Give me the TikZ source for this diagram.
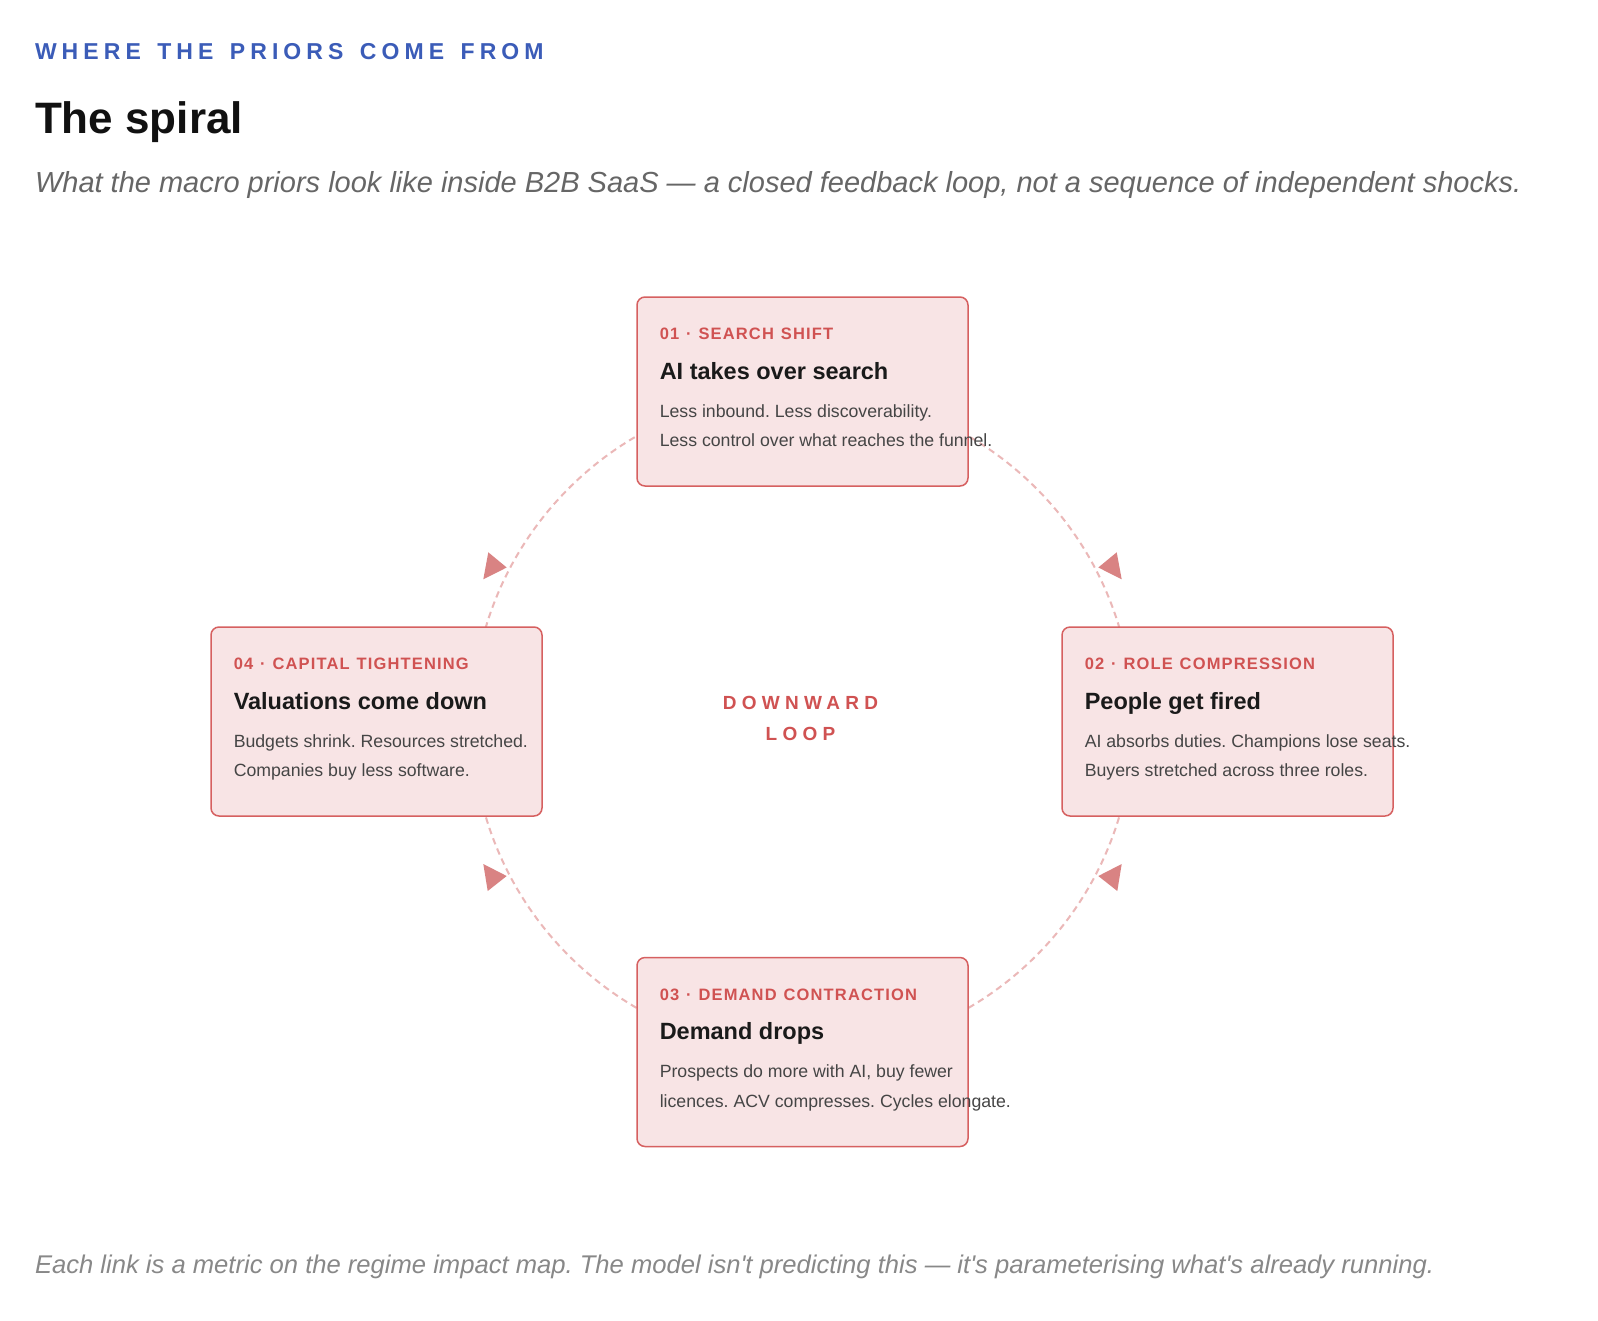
\documentclass[tikz,border=0pt]{standalone}
\usepackage{fontspec}
\setmainfont{Liberation Sans}
\newfontfamily\plainfont{Liberation Sans}
\newfontfamily\hdrfont[LetterSpace=22]{Liberation Sans}
\newfontfamily\lblfont[LetterSpace=7]{Liberation Sans}
\newfontfamily\loopfont[LetterSpace=28]{Liberation Sans}
\usetikzlibrary{calc}
\definecolor{hdrblue}{HTML}{3B5CB8}
\definecolor{titleblack}{HTML}{111111}
\definecolor{subgrey}{HTML}{666666}
\definecolor{footgrey}{HTML}{888888}
\definecolor{boxfill}{HTML}{F8E4E5}
\definecolor{boxline}{HTML}{D66060}
\definecolor{lblred}{HTML}{D05252}
\definecolor{headdark}{HTML}{1A1A1A}
\definecolor{bodygrey}{HTML}{454545}
\definecolor{dashpink}{HTML}{EBB8B8}
\definecolor{arrowpink}{HTML}{D98383}
\frenchspacing
\newcommand{\hsp}{\hspace{5.06pt}}
\newcommand{\lsp}{\hspace{1.15pt}}
\begin{document}
\begin{tikzpicture}[x=1pt,y=-1pt,
  txt/.style={anchor=base west, inner sep=0pt, outer sep=0pt},
  ctxt/.style={anchor=base, inner sep=0pt, outer sep=0pt},
  cardbox/.style={draw=boxline, fill=boxfill, line width=1.5pt, rounded corners=8pt,
    minimum width=331pt, minimum height=189pt, inner sep=0pt},
  lbl/.style={txt, text=lblred, font=\lblfont\bfseries\fontsize{16.5}{20}\selectfont},
  hd/.style={txt, text=headdark, font=\bfseries\fontsize{23.5}{28}\selectfont},
  bd/.style={txt, text=bodygrey, font=\fontsize{17.7}{22}\selectfont},
  loopline/.style={draw=dashpink, line width=2pt, dash pattern=on 6.5pt off 4.5pt},
  tri/.style={fill=arrowpink}
]
\useasboundingbox (0,0) rectangle (1598,1320);
\fill[white] (0,0) rectangle (1598,1320);

% header
\node[txt, text=hdrblue, font=\hdrfont\bfseries\fontsize{23}{28}\selectfont] (kicker) at (35,59.3) {WHERE \hsp THE \hsp PRIORS \hsp COME \hsp FROM};
\node[txt, text=titleblack, font=\bfseries\fontsize{44}{52}\selectfont] (title) at (35,133.3) {The spiral};
\node[txt, text=subgrey, font=\itshape\fontsize{29}{34}\selectfont] (subtitle) at (35,192.7) {What the macro priors look like inside B2B SaaS — a closed feedback loop, not a sequence of independent shocks.};

% loop centre
\coordinate (c) at (802.5,721.5);

% card positions
\path (802.5,391.5) coordinate (p1);
\path (1227.5,721.5) coordinate (p2);
\path (802.5,1052) coordinate (p3);
\path (376.5,721.5) coordinate (p4);

% dashed loop connectors (behind the cards)
\draw[loopline] (p1) arc[start angle=270, end angle=90, radius=330.5];
\draw[loopline] (p1) arc[start angle=270, end angle=450, radius=330.5];

% arrow heads
\fill[tri] ($(c)+(-295.8,-154)$) -- ($(c)+(-314.2,-169.2)$) -- ($(c)+(-319.2,-142.2)$) -- cycle;
\fill[tri] ($(c)+(295.8,-154)$) -- ($(c)+(314.2,-169.2)$) -- ($(c)+(319.2,-142.2)$) -- cycle;
\fill[tri] ($(c)+(-295.8,154.5)$) -- ($(c)+(-319.2,142.5)$) -- ($(c)+(-314.8,169.5)$) -- cycle;
\fill[tri] ($(c)+(295.8,154.5)$) -- ($(c)+(319.2,142.5)$) -- ($(c)+(314.8,169.5)$) -- cycle;

% cards
\node[cardbox] (b1) at (p1) {};
\node[cardbox] (b2) at (p2) {};
\node[cardbox] (b3) at (p3) {};
\node[cardbox] (b4) at (p4) {};

% card 1
\node[lbl] (b1l) at ($(b1.north west)+(23.5,43.3)$) {01 \lsp· \lsp SEARCH \lsp SHIFT};
\node[hd]  (b1h) at ($(b1.north west)+(23.5,83.2)$) {AI takes over search};
\node[bd]  (b1a) at ($(b1.north west)+(23.5,121.2)$) {Less inbound. Less discoverability.};
\node[bd]  (b1b) at ($(b1.north west)+(23.5,150.6)$) {Less control over what reaches the funnel.};

% card 2
\node[lbl] (b2l) at ($(b2.north west)+(23.5,43.3)$) {02 \lsp· \lsp ROLE \lsp COMPRESSION};
\node[hd]  (b2h) at ($(b2.north west)+(23.5,83.2)$) {People get fired};
\node[bd]  (b2a) at ($(b2.north west)+(23.5,121.2)$) {AI absorbs duties. Champions lose seats.};
\node[bd]  (b2b) at ($(b2.north west)+(23.5,150.6)$) {Buyers stretched across three roles.};

% card 3
\node[lbl] (b3l) at ($(b3.north west)+(23.5,43.3)$) {03 \lsp· \lsp DEMAND \lsp CONTRACTION};
\node[hd]  (b3h) at ($(b3.north west)+(23.5,83.2)$) {Demand drops};
\node[bd]  (b3a) at ($(b3.north west)+(23.5,121.2)$) {Prospects do more with AI, buy fewer};
\node[bd]  (b3b) at ($(b3.north west)+(23.5,150.6)$) {licences. ACV compresses. Cycles elongate.};

% card 4
\node[lbl] (b4l) at ($(b4.north west)+(23.5,43.3)$) {04 \lsp· \lsp CAPITAL \lsp TIGHTENING};
\node[hd]  (b4h) at ($(b4.north west)+(23.5,83.2)$) {Valuations come down};
\node[bd]  (b4a) at ($(b4.north west)+(23.5,121.2)$) {Budgets shrink. Resources stretched.};
\node[bd]  (b4b) at ($(b4.north west)+(23.5,150.6)$) {Companies buy less software.};

% centre label
\node[ctxt, text=lblred, font=\loopfont\bfseries\fontsize{19}{23}\selectfont] (loop1) at (800.5,709.3) {DOWNWARD};
\node[ctxt, text=lblred, font=\loopfont\bfseries\fontsize{19}{23}\selectfont] (loop2) at (800.5,740.7) {LOOP};

% footer
\node[txt, text=footgrey, font=\plainfont\itshape\fontsize{25.6}{30}\selectfont] (footer) at (35,1273.3) {Each link is a metric on the regime impact map. The model isn't predicting this — it's parameterising what's already running.};
\end{tikzpicture}
\end{document}
